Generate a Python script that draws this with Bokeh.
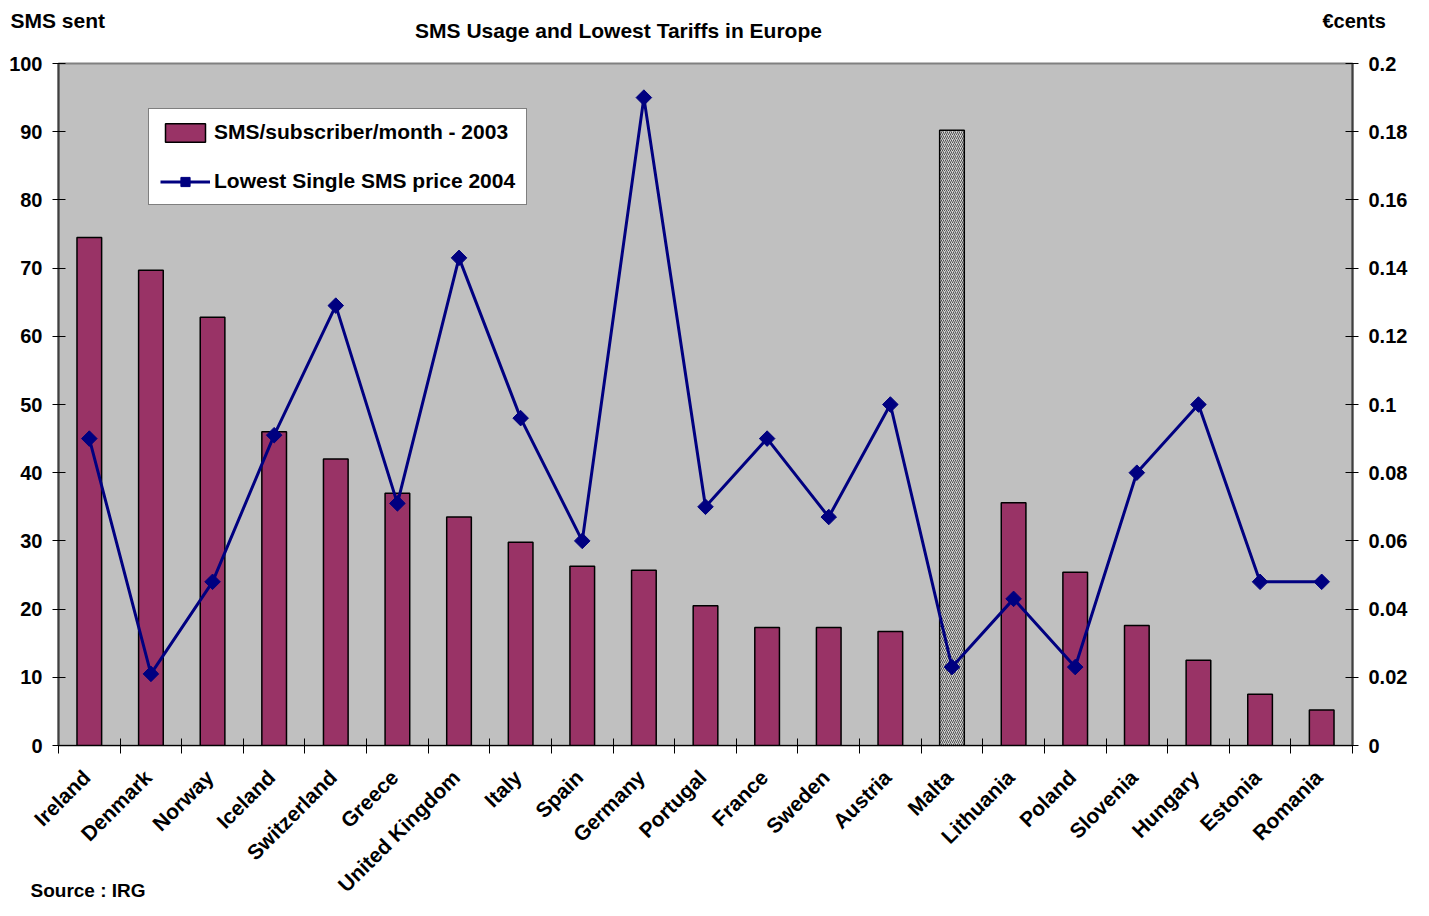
import math
from bokeh.plotting import figure
from bokeh.layouts import column
from bokeh.core.properties import value
from bokeh.models import (ColumnDataSource, Range1d, LinearAxis, FixedTicker,
                          PrintfTickFormatter, CustomJSTickFormatter, Label, LabelSet,
                          Legend, LegendItem)
from bokeh.embed import file_html
from bokeh.resources import INLINE

countries = ["Ireland", "Denmark", "Norway", "Iceland", "Switzerland", "Greece",
             "United Kingdom", "Italy", "Spain", "Germany", "Portugal", "France",
             "Sweden", "Austria", "Malta", "Lithuania", "Poland", "Slovenia",
             "Hungary", "Estonia", "Romania"]
sms_per_month = [74.5, 69.7, 62.8, 46.0, 42.0, 37.0, 33.5, 29.8, 26.3, 25.7, 20.5,
                 17.3, 17.3, 16.7, 90.2, 35.6, 25.4, 17.6, 12.5, 7.5, 5.2]
lowest_price = [0.090, 0.021, 0.048, 0.091, 0.129, 0.071, 0.143, 0.096, 0.060, 0.190,
                0.070, 0.090, 0.067, 0.100, 0.023, 0.043, 0.023, 0.080, 0.100, 0.048,
                0.048]
hatched = ["Malta"]
left_ticks = [0, 10, 20, 30, 40, 50, 60, 70, 80, 90, 100]
right_ticks = [0, 0.02, 0.04, 0.06, 0.08, 0.1, 0.12, 0.14, 0.16, 0.18, 0.2]

FONT = "Liberation Sans"
W = 1413
TOP_H = 51
MAIN_H = 712
BOT_H = 900 - TOP_H - MAIN_H
LEFT, RIGHT = 58, 61
FRAME_W = W - LEFT - RIGHT
N = len(countries)

pos = [i + 0.5 for i in range(N)]
bounds = list(range(N + 1))

plain = ColumnDataSource(dict(
    x=[p for p, c in zip(pos, countries) if c not in hatched],
    top=[v for v, c in zip(sms_per_month, countries) if c not in hatched]))
special = ColumnDataSource(dict(
    x=[p for p, c in zip(pos, countries) if c in hatched],
    top=[v for v, c in zip(sms_per_month, countries) if c in hatched]))
line_src = ColumnDataSource(dict(x=pos, y=lowest_price))


def strip(height, x_range):
    f = figure(width=W, height=height, output_backend="svg", toolbar_location=None,
               x_range=x_range, y_range=Range1d(0, 1), min_border=0,
               x_axis_type=None, y_axis_type=None, frame_align=False)
    f.background_fill_color = "white"
    f.border_fill_color = "white"
    f.outline_line_color = None
    f.grid.visible = False
    return f


def add_text(fig, txt, x, y, size, align="left"):
    fig.add_layout(Label(x=x, y=y, x_units="screen", y_units="screen", text=txt,
                         text_font=FONT, text_font_style="bold", text_font_size=size,
                         text_align=align, text_baseline="middle", text_color="black"))


# ---- top strip with titles ----
top = strip(TOP_H, Range1d(0, 1))
add_text(top, "SMS Usage and Lowest Tariffs in Europe", 618, TOP_H - 30, "21px", "center")
add_text(top, "SMS sent", 10, TOP_H - 20, "21px")
add_text(top, "€cents", 1322, TOP_H - 20, "20px")

# ---- main chart ----
p = figure(width=W, height=MAIN_H, output_backend="svg", toolbar_location=None,
           x_range=Range1d(0, N), y_range=Range1d(0, 100), frame_align=False,
           min_border_left=LEFT, min_border_right=RIGHT, min_border_top=12,
           min_border_bottom=18, x_axis_type=None, y_axis_type=None)
p.background_fill_color = "#C0C0C0"
p.border_fill_color = "white"
p.outline_line_color = "#808080"
p.outline_line_width = 2
p.grid.visible = False
p.extra_y_ranges = {"price": Range1d(0, 0.2)}

yl = LinearAxis(ticker=FixedTicker(ticks=left_ticks))
yr = LinearAxis(y_range_name="price", ticker=FixedTicker(ticks=right_ticks),
                formatter=PrintfTickFormatter(format="%g"))
xa = LinearAxis(ticker=FixedTicker(ticks=pos, minor_ticks=bounds),
                formatter=CustomJSTickFormatter(code="return '';"))
for ax in (yl, yr):
    ax.axis_line_color = "#404040"
    ax.axis_line_width = 2
    ax.major_tick_in = 7
    ax.major_tick_out = 6
    ax.major_tick_line_color = "black"
    ax.minor_tick_line_color = None
    ax.major_label_text_font = FONT
    ax.major_label_text_font_style = "bold"
    ax.major_label_text_font_size = "20px"
    ax.major_label_text_color = "black"
    ax.major_label_standoff = 10
xa.axis_line_color = "black"
xa.axis_line_width = 1
xa.major_tick_line_color = None
xa.major_tick_in = 0
xa.major_tick_out = 0
xa.minor_tick_line_color = "black"
xa.minor_tick_in = 7
xa.minor_tick_out = 8
xa.major_label_standoff = 0
xa.major_label_text_font_size = "1px"
p.add_layout(yl, "left")
p.add_layout(yr, "right")
p.add_layout(xa, "below")

bars = p.vbar(x="x", top="top", width=0.4, source=plain, fill_color="#993366",
              line_color="black", line_width=1.5)
p.vbar(x="x", top="top", width=0.4, source=special, fill_color="#d4d4d4",
       hatch_pattern="/", hatch_color="#505050", hatch_scale=4, hatch_weight=1,
       line_color="black", line_width=1.5)
ln = p.line(x="x", y="y", source=line_src, y_range_name="price",
            line_color="#000080", line_width=3)
mk = p.scatter(x="x", y="y", source=line_src, y_range_name="price", marker="square",
               angle=math.pi / 4, size=11, fill_color="#000080", line_color="#000080")

legend = Legend(items=[LegendItem(label="SMS/subscriber/month - 2003", renderers=[bars]),
                       LegendItem(label="Lowest Single SMS price 2004", renderers=[ln, mk])],
                location=(90, 540), orientation="vertical",
                background_fill_color="white", background_fill_alpha=1,
                border_line_color="black", border_line_width=1,
                label_text_font=FONT, label_text_font_style="bold",
                label_text_font_size="21px", label_text_color="black",
                glyph_width=50, glyph_height=23, label_standoff=4,
                padding=11, spacing=25, margin=0)
p.add_layout(legend, "center")

# ---- bottom strip with category labels (same x scale as the chart frame) ----
px_per_unit = FRAME_W / N
bot = strip(BOT_H, Range1d(-LEFT / px_per_unit, N + RIGHT / px_per_unit))
label_src = ColumnDataSource(dict(x=pos, y=[BOT_H - 2] * N, name=countries))
bot.add_layout(LabelSet(x="x", y="y", y_units="screen", text="name", source=label_src,
                        angle=math.pi / 4, text_align="right", text_baseline="top",
                        x_offset=-11,
                        text_font=value(FONT), text_font_style="bold",
                        text_font_size="21px", text_color="black"))
add_text(bot, "Source : IRG", 30, 10, "19px")

layout = column(top, p, bot, spacing=0)
open("out.html", "w").write(file_html(layout, INLINE))
